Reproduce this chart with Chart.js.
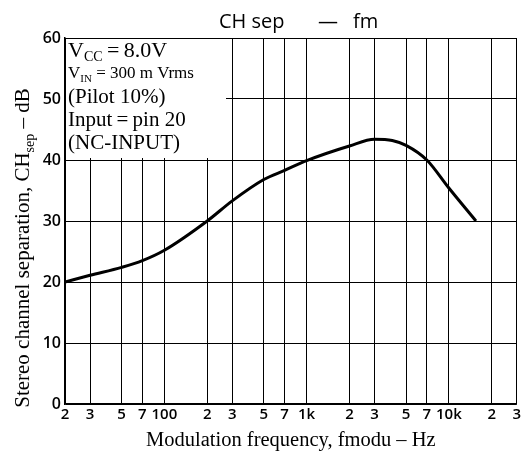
<!DOCTYPE html>
<html>
<head>
<meta charset="utf-8">
<script src="https://cdn.jsdelivr.net/npm/chart.js@4.4.1/dist/chart.umd.min.js"></script>
<style>
  html, body { margin: 0; padding: 0; background: #fff; }
  #wrap { width: 523px; height: 456px; }
</style>
</head>
<body>
<div id="wrap"><canvas id="chSepChart" width="523" height="456"></canvas></div>
<script>
// 曲线数据 (频率 Hz / 分离度 dB)
const freqHz = [20, 30, 50, 70, 100, 200, 300, 500, 700, 1000, 2000, 3000, 4000, 5000, 7000, 10000, 15500];
const sepDb = [20, 21.1, 22.4, 23.5, 25.2, 30, 33.3, 36.8, 38.3, 39.9, 42.3, 43.4, 43.2, 42.4, 40, 35.4, 30];

// x 轴刻度 (对数)
const xTickValues = [20, 30, 50, 70, 100, 200, 300, 500, 700, 1000, 2000, 3000, 5000, 7000, 10000, 20000, 30000];
const xTickLabels = ['2', '3', '5', '7', '100', '2', '3', '5', '7', '1k', '2', '3', '5', '7', '10k', '2', '3'];
const yTickValues = [0, 10, 20, 30, 40, 50, 60];

const xTitle = 'Modulation frequency, fmodu – Hz';
const serif = '"Liberation Serif", "DejaVu Serif", serif';
const sans = '"Open Sans", "DejaVu Sans", sans-serif';

// 画标题、坐标轴标题和条件说明框
const decorPlugin = {
    id: 'decor',
    beforeDraw(chart) {
        const ctx = chart.ctx;
        ctx.save();
        ctx.fillStyle = '#fff';
        ctx.fillRect(0, 0, chart.width, chart.height);
        ctx.restore();
    },
    beforeDatasetsDraw(chart) {
        const ctx = chart.ctx;
        const a = chart.chartArea;
        ctx.save();
        // 白底遮住网格
        ctx.fillStyle = '#fff';
        ctx.fillRect(a.left + 1, a.top + 1, 225 - a.left, 157 - a.top);
        ctx.fillStyle = '#000';
        ctx.textBaseline = 'alphabetic';
        ctx.textAlign = 'left';
        const x0 = a.left + 3;

        // V_CC = 8.0V
        let x = x0;
        ctx.font = '22px ' + serif;
        ctx.fillText('V', x, 57); x += ctx.measureText('V').width;
        ctx.font = '14px ' + serif;
        ctx.fillText('CC', x, 61); x += ctx.measureText('CC').width;
        ctx.font = '22px ' + serif;
        ctx.fillText('\u2009=\u20098.0V', x, 57);

        // V_IN = 300 m Vrms
        x = x0;
        ctx.font = '17px ' + serif;
        ctx.fillText('V', x, 78); x += ctx.measureText('V').width;
        ctx.font = '11px ' + serif;
        ctx.fillText('IN', x, 82); x += ctx.measureText('IN').width;
        ctx.font = '17px ' + serif;
        ctx.fillText(' = 300 m Vrms', x, 78);

        ctx.font = '21px ' + serif;
        ctx.fillText('(Pilot 10%)', x0, 103);
        ctx.fillText('Input\u2009=\u2009pin 20', x0, 126);
        ctx.fillText('(NC-INPUT)', x0, 149);
        ctx.restore();
    },
    afterDraw(chart) {
        const ctx = chart.ctx;
        const a = chart.chartArea;
        ctx.save();
        ctx.fillStyle = '#000';

        // 标题
        ctx.font = '20px ' + sans;
        ctx.textAlign = 'left';
        ctx.textBaseline = 'alphabetic';
        ctx.fillText('CH sep', 219, 28);
        ctx.fillText('fm', 353, 28);
        ctx.textAlign = 'center';
        ctx.fillText('—', 328, 28);

        // x 轴标题
        ctx.font = '20.5px ' + serif;
        ctx.fillText(xTitle, (a.left + a.right) / 2, 446);

        // y 轴标题 (带下标)
        const mainPart = 'Stereo channel separation, CH';
        const subPart = 'sep';
        const tailPart = ' – dB';
        ctx.font = '21px ' + serif;
        const w1 = ctx.measureText(mainPart).width;
        const w3 = ctx.measureText(tailPart).width;
        ctx.font = '14px ' + serif;
        const w2 = ctx.measureText(subPart).width;
        const total = w1 + w2 + w3;
        ctx.translate(29, 248);
        ctx.rotate(-Math.PI / 2);
        ctx.textAlign = 'left';
        let x = -total / 2;
        ctx.font = '21px ' + serif;
        ctx.fillText(mainPart, x, 0); x += w1;
        ctx.font = '14px ' + serif;
        ctx.fillText(subPart, x, 5); x += w2;
        ctx.font = '21px ' + serif;
        ctx.fillText(tailPart, x, 0);
        ctx.restore();
    }
};

const ctx = document.getElementById('chSepChart').getContext('2d');
new Chart(ctx, {
    type: 'line',
    data: {
        datasets: [{
            data: freqHz.map((f, i) => ({ x: f, y: sepDb[i] })),
            borderColor: '#000',
            borderWidth: 3,
            pointRadius: 0,
            fill: false,
            cubicInterpolationMode: 'monotone'
        }]
    },
    options: {
        responsive: false,
        animation: false,
        devicePixelRatio: 1,
        layout: { padding: { top: 38, right: 3, left: 0, bottom: 0 } },
        plugins: {
            legend: { display: false },
            tooltip: { enabled: false },
            title: { display: false }
        },
        scales: {
            x: {
                type: 'logarithmic',
                min: 20,
                max: 30000,
                afterBuildTicks: function(scale) {
                    scale.ticks = xTickValues.map(v => ({ value: v }));
                },
                afterFit: function(scale) {
                    scale.height = 52;
                },
                grid: { color: '#000', lineWidth: 1, drawTicks: false },
                border: { color: '#000', width: 1.5 },
                ticks: {
                    autoSkip: false,
                    maxRotation: 0,
                    minRotation: 0,
                    padding: 2,
                    color: '#000',
                    font: { family: sans, size: 15, weight: '600' },
                    callback: function(value, index) {
                        return xTickLabels[index];
                    }
                }
            },
            y: {
                min: 0,
                max: 60,
                afterBuildTicks: function(scale) {
                    scale.ticks = yTickValues.map(v => ({ value: v }));
                },
                afterFit: function(scale) {
                    scale.width = 65;
                },
                grid: { color: '#000', lineWidth: 1, drawTicks: false },
                border: { color: '#000', width: 1.5 },
                ticks: {
                    padding: 4,
                    color: '#000',
                    font: { family: sans, size: 16, weight: '600' }
                }
            }
        }
    },
    plugins: [decorPlugin]
});
</script>
</body>
</html>
